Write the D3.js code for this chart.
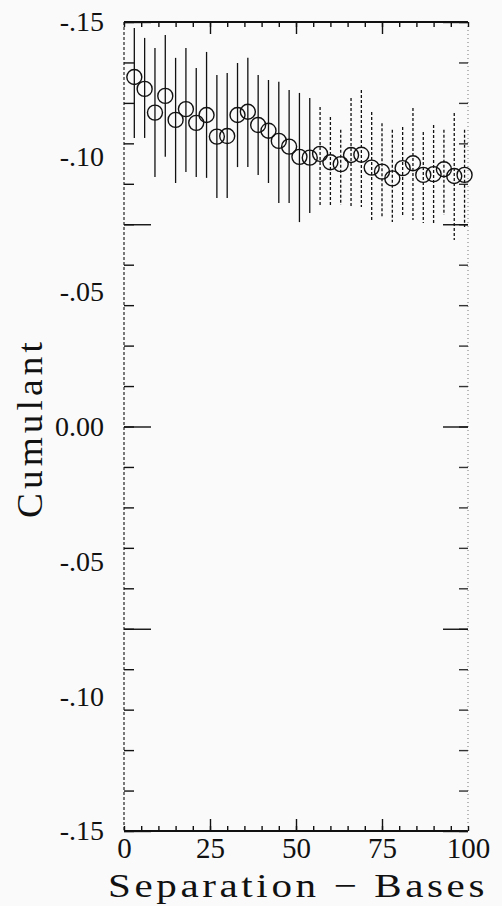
<!DOCTYPE html>
<html lang="en">
<head>
  <meta charset="UTF-8">
  <title>Cumulant vs Separation</title>
  <script src="https://cdn.jsdelivr.net/npm/d3@7"></script>
  <style>
    body { margin: 0; background: #fafafa; }
    svg { display: block; }
    .lbl text { font-family: "Liberation Serif", serif; fill: #111; }
  </style>
</head>
<body>
  <div id="container"></div>
  <script>
    const svg_width = 502;
    const svg_height = 906;

    // separation (bases)
    var separation = [3, 6, 9, 12, 15, 18, 21, 24, 27, 30, 33, 36, 39, 42, 45, 48, 51,
      54, 57, 60, 63, 66, 69, 72, 75, 78, 81, 84, 87, 90, 93, 96, 99];
    // cumulant value (circles)
    var cumulant = [0.1296, 0.1252, 0.1164, 0.1226, 0.1137, 0.1177, 0.1126, 0.1155, 0.1075,
      0.1077, 0.1155, 0.1167, 0.1118, 0.1097, 0.1059, 0.1038, 0.1000, 0.0997, 0.1011,
      0.0980, 0.0973, 0.1007, 0.1008, 0.0960, 0.0945, 0.0920, 0.0958, 0.0976, 0.0933,
      0.0936, 0.0954, 0.0929, 0.0933];
    // error bar ends
    var err_high = [0.1478, 0.1441, 0.1404, 0.1452, 0.1367, 0.1404, 0.1329, 0.1389, 0.1303,
      0.1311, 0.1348, 0.1367, 0.1303, 0.1285, 0.1278, 0.1248, 0.1237, 0.1218, 0.1185,
      0.1148, 0.1100, 0.1218, 0.1248, 0.1166, 0.1125, 0.1100, 0.1111, 0.1181, 0.1092,
      0.1118, 0.1100, 0.1163, 0.1100];
    var err_low = [0.1070, 0.1070, 0.0925, 0.1000, 0.0903, 0.0944, 0.0925, 0.0922, 0.0847,
      0.0847, 0.0962, 0.0962, 0.0933, 0.0903, 0.0829, 0.0829, 0.0758, 0.0792, 0.0821,
      0.0821, 0.0821, 0.0814, 0.0814, 0.0758, 0.0777, 0.0758, 0.0777, 0.0766, 0.0755,
      0.0747, 0.0784, 0.0692, 0.0740];

    // tick values and labels
    var x_labels = [0, 25, 50, 75, 100];
    var x_minor = d3.range(0, 101, 5);
    var y_label_values = [0.15, 0.10, 0.05, 0.00, -0.05, -0.10, -0.15];
    var y_label_text = ["-.15", "-.10", "-.05", "0.00", "-.05", "-.10", "-.15"];
    var y_minor = d3.range(-10, 11).map(function (k) { return k * 0.015; });
    var y_major = [-0.15, -0.075, 0, 0.075, 0.15];

    var x_scale = d3.scaleLinear().domain([0, 100]).range([124, 468]);
    var y_scale = d3.scaleLinear().domain([-0.15, 0.15]).range([831, 22]);

    var svg = d3.select("#container")
      .append('svg')
      .attr('width', svg_width)
      .attr('height', svg_height);

    // 框线：上下实线，左右点线
    svg.append('line')
      .attr('x1', 124).attr('x2', 468).attr('y1', 22).attr('y2', 22)
      .attr('stroke', '#111').attr('stroke-width', 2);
    svg.append('line')
      .attr('x1', 124).attr('x2', 468).attr('y1', 831).attr('y2', 831)
      .attr('stroke', '#111').attr('stroke-width', 2);
    svg.append('line')
      .attr('x1', 124).attr('x2', 124).attr('y1', 22).attr('y2', 831)
      .attr('stroke', '#222').attr('stroke-width', 1.2).attr('stroke-dasharray', '3,2');
    svg.append('line')
      .attr('x1', 468).attr('x2', 468).attr('y1', 22).attr('y2', 831)
      .attr('stroke', '#777').attr('stroke-width', 1).attr('stroke-dasharray', '1,3');

    function tickAxis(axis, transform, color) {
      var g = svg.append('g').attr('transform', transform).call(axis);
      g.select('.domain').remove();
      g.selectAll('line').attr('stroke', color || '#111').attr('stroke-width', 1.4);
      g.selectAll('text').remove();
    }

    // x ticks (bottom, top)
    tickAxis(d3.axisBottom(x_scale).tickValues(x_minor).tickSize(-5), 'translate(0,831)');
    tickAxis(d3.axisBottom(x_scale).tickValues([25, 50, 75]).tickSize(-12), 'translate(0,831)');
    tickAxis(d3.axisTop(x_scale).tickValues(x_minor).tickSize(-5), 'translate(0,22)');
    tickAxis(d3.axisTop(x_scale).tickValues([25, 50, 75]).tickSize(-12), 'translate(0,22)');

    // y ticks (left, right)
    tickAxis(d3.axisLeft(y_scale).tickValues(y_minor).tickSize(-10), 'translate(124,0)');
    tickAxis(d3.axisLeft(y_scale).tickValues(y_major).tickSize(-27), 'translate(124,0)');
    tickAxis(d3.axisRight(y_scale).tickValues(y_minor).tickSize(-9), 'translate(468,0)', '#333');
    tickAxis(d3.axisRight(y_scale).tickValues(y_major).tickSize(-25), 'translate(468,0)');

    // tick labels
    var x_lab = svg.append('g').attr('class', 'lbl')
      .attr('transform', 'translate(0,831)')
      .call(d3.axisBottom(x_scale).tickValues(x_labels).tickSize(0).tickPadding(4)
        .tickFormat(function (d) { return d; }));
    x_lab.select('.domain').remove();
    x_lab.selectAll('text').attr('font-size', 29).attr('dy', '0.78em');

    var y_lab = svg.append('g').attr('class', 'lbl')
      .attr('transform', 'translate(124,0)')
      .call(d3.axisLeft(y_scale).tickValues(y_label_values).tickSize(0).tickPadding(20)
        .tickFormat(function (d, i) { return y_label_text[i]; }));
    y_lab.select('.domain').remove();
    y_lab.selectAll('text').attr('font-size', 28);

    // axis titles
    svg.append('text')
      .attr('x', 108).attr('y', 897)
      .attr('font-family', '"Liberation Serif", serif')
      .attr('font-size', 34)
      .attr('letter-spacing', 3)
      .attr('fill', '#111')
      .attr('textLength', 380)
      .attr('lengthAdjust', 'spacingAndGlyphs')
      .text('Separation \u2212 Bases');

    svg.append('text')
      .attr('transform', 'translate(42,518) rotate(-90)')
      .attr('font-family', '"Liberation Serif", serif')
      .attr('font-size', 36)
      .attr('letter-spacing', 4)
      .attr('fill', '#111')
      .attr('textLength', 180)
      .attr('lengthAdjust', 'spacingAndGlyphs')
      .text('Cumulant');

    // 误差线
    svg.append('g')
      .selectAll('line')
      .data(separation)
      .enter()
      .append('line')
      .attr('x1', function (d) { return x_scale(d); })
      .attr('x2', function (d) { return x_scale(d); })
      .attr('y1', function (d, i) { return y_scale(err_high[i]); })
      .attr('y2', function (d, i) { return y_scale(err_low[i]); })
      .attr('stroke', '#111')
      .attr('stroke-width', 1.3)
      .attr('stroke-dasharray', function (d, i) { return i >= 18 ? '3,2' : null; });

    // 圆点
    svg.append('g')
      .selectAll('circle')
      .data(separation)
      .enter()
      .append('circle')
      .attr('cx', function (d) { return x_scale(d); })
      .attr('cy', function (d, i) { return y_scale(cumulant[i]); })
      .attr('r', 7.5)
      .attr('fill', 'none')
      .attr('stroke', '#111')
      .attr('stroke-width', 1.4);
  </script>
</body>
</html>
